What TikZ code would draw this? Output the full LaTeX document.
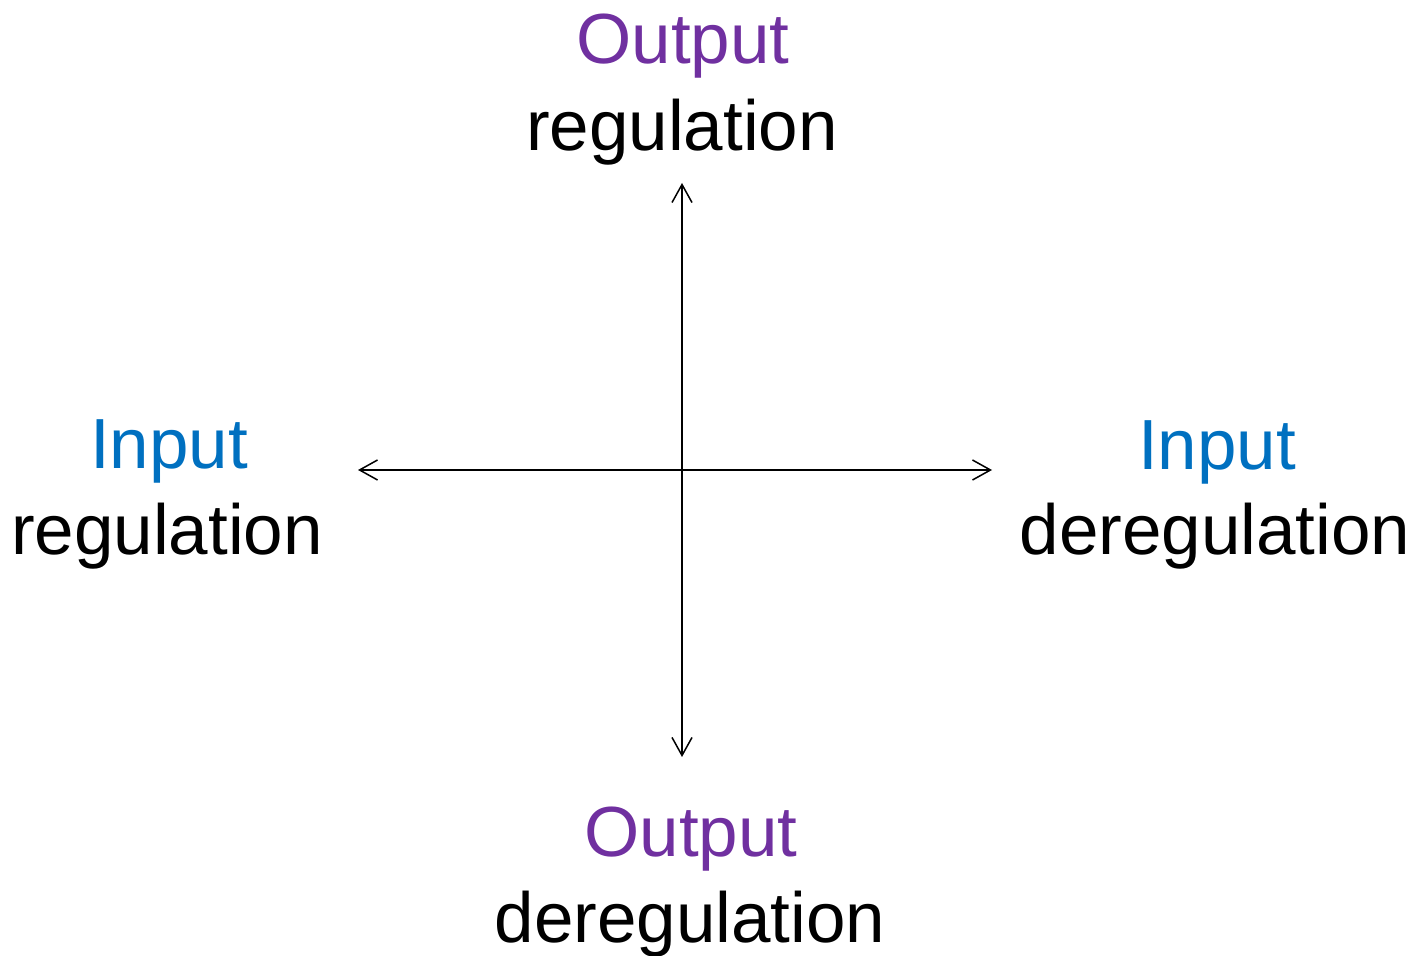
\documentclass[tikz,border=0pt]{standalone}
\usepackage{fontspec}
\setmainfont{Liberation Sans}
\usetikzlibrary{arrows.meta}
\definecolor{outpurple}{HTML}{7030A0}
\definecolor{inblue}{HTML}{0070C0}
\begin{document}
\begin{tikzpicture}[x=1pt,y=1pt,
  lbl/.style={inner sep=0pt,anchor=base,font=\fontsize{71}{85}\selectfont},
  outlbl/.style={lbl,text=outpurple},
  inlbl/.style={lbl,text=inblue},
  axis/.style={line width=1.5pt,{Straight Barb[length=18pt,width=20pt]}-{Straight Barb[length=18pt,width=20pt]}}]
\useasboundingbox (0,0) rectangle (1420,955);
% top
\node[outlbl] (topA) at (683,891) {Output};
\node[lbl] (topB) at (682,804) {regulation};
% left
\node[inlbl] (leftA) at (169,486) {Input};
\node[lbl] (leftB) at (167,400) {regulation};
% right
\node[inlbl] (rightA) at (1217,485) {Input};
\node[lbl] (rightB) at (1215,400) {deregulation};
% bottom
\node[outlbl] (botA) at (691,98) {Output};
\node[lbl] (botB) at (690,13) {deregulation};
% axes
\coordinate (hl) at (358,485);
\coordinate (hr) at (992,485);
\coordinate (vt) at (682,772);
\coordinate (vb) at (682,198);
\draw[axis] (hl) -- (hr);
\draw[axis] (vb) -- (vt);
\end{tikzpicture}
\end{document}
